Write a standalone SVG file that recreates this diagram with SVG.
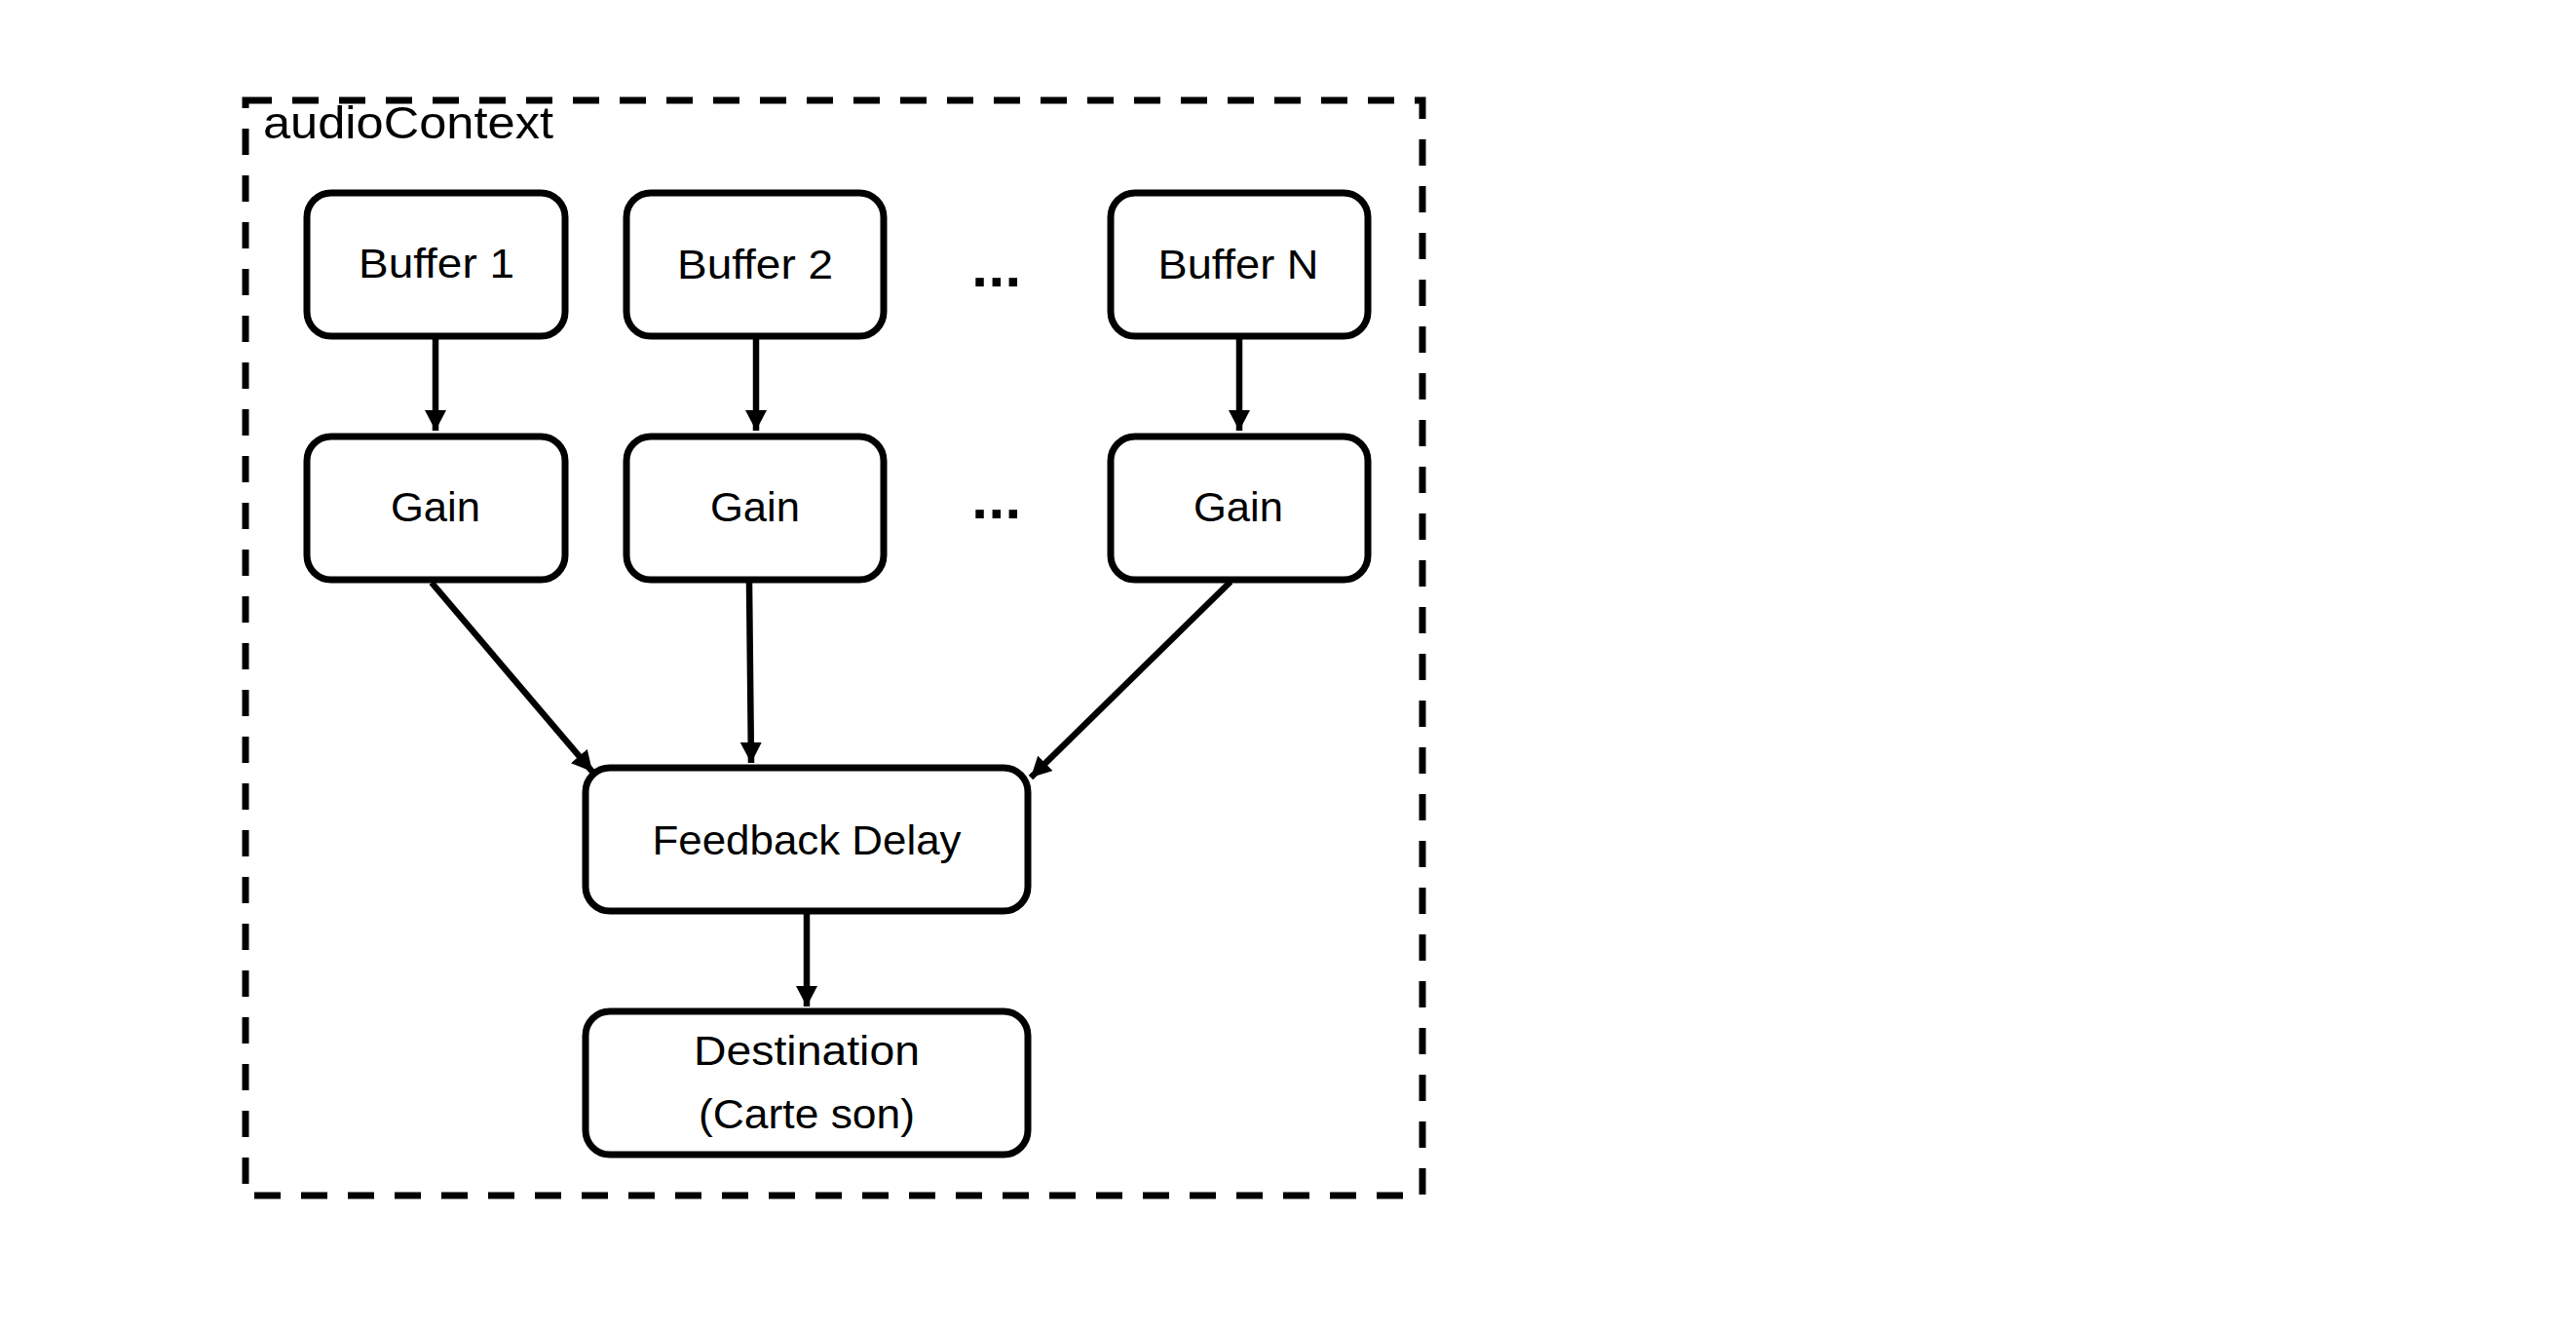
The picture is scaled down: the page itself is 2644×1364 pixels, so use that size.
<svg xmlns="http://www.w3.org/2000/svg" width="2644" height="1364" viewBox="0 0 2644 1364">
<style>
.box{fill:#fff;stroke:#000;stroke-width:7}
.lbl{font-family:"Liberation Sans",Arial,sans-serif;font-size:43px;fill:#000;text-anchor:middle}
.ctx{font-family:"Liberation Sans",Arial,sans-serif;font-size:46px;fill:#000}
.dots{font-family:"Liberation Sans",Arial,sans-serif;font-size:60px;font-weight:bold;fill:#000;text-anchor:middle;letter-spacing:0.5px}
.edge{stroke:#000;stroke-width:6.5;fill:none;marker-end:url(#arr)}
</style>
<defs>
<marker id="arr" markerUnits="userSpaceOnUse" markerWidth="21" markerHeight="22" refX="21" refY="11" orient="auto">
<path d="M0,0 L21,11 L0,22 z" fill="#000"/>
</marker>
</defs>
<rect width="2644" height="1364" fill="#fff"/>
<g id="audioContext">
<rect x="252" y="103" width="1208" height="1124" fill="none" stroke="#000" stroke-width="7" stroke-dasharray="27 21"/>
<text class="ctx" x="270" y="142" textLength="298" lengthAdjust="spacingAndGlyphs">audioContext</text>
</g>
<g id="buffer1"><rect class="box" x="315" y="198" width="265" height="147" rx="25"/><text class="lbl" x="448" y="285" textLength="160" lengthAdjust="spacingAndGlyphs">Buffer 1</text></g>
<g id="buffer2"><rect class="box" x="643" y="198" width="264" height="147" rx="25"/><text class="lbl" x="775" y="286" textLength="160" lengthAdjust="spacingAndGlyphs">Buffer 2</text></g>
<g id="bufferN"><rect class="box" x="1140" y="198" width="264" height="147" rx="25"/><text class="lbl" x="1271" y="286" textLength="165" lengthAdjust="spacingAndGlyphs">Buffer N</text></g>
<g id="gain1"><rect class="box" x="315" y="448" width="265" height="147" rx="25"/><text class="lbl" x="447" y="535" textLength="92" lengthAdjust="spacingAndGlyphs">Gain</text></g>
<g id="gain2"><rect class="box" x="643" y="448" width="264" height="147" rx="25"/><text class="lbl" x="775" y="535" textLength="92" lengthAdjust="spacingAndGlyphs">Gain</text></g>
<g id="gainN"><rect class="box" x="1140" y="448" width="264" height="147" rx="25"/><text class="lbl" x="1271" y="535" textLength="92" lengthAdjust="spacingAndGlyphs">Gain</text></g>
<g id="ellipsis1"><text class="dots" x="1023" y="294">...</text></g>
<g id="ellipsis2"><text class="dots" x="1023" y="532">...</text></g>
<g id="feedbackDelay"><rect class="box" x="601" y="788" width="454" height="147" rx="25"/><text class="lbl" x="828" y="877" textLength="317" lengthAdjust="spacingAndGlyphs">Feedback Delay</text></g>
<g id="destination"><rect class="box" x="601" y="1038" width="454" height="147" rx="25"/><text class="lbl" x="828" y="1093" textLength="232" lengthAdjust="spacingAndGlyphs">Destination</text><text class="lbl" x="828" y="1158" textLength="222" lengthAdjust="spacingAndGlyphs">(Carte son)</text></g>
<g id="connectors">
<line class="edge" x1="447" y1="348" x2="447" y2="442"/>
<line class="edge" x1="776" y1="348" x2="776" y2="442"/>
<line class="edge" x1="1272" y1="348" x2="1272" y2="442"/>
<line class="edge" x1="443" y1="598" x2="608" y2="792"/>
<line class="edge" x1="769" y1="598" x2="771" y2="783"/>
<line class="edge" x1="1263" y1="597" x2="1058" y2="798"/>
<line class="edge" x1="828" y1="938" x2="828" y2="1033"/>
</g>
</svg>
